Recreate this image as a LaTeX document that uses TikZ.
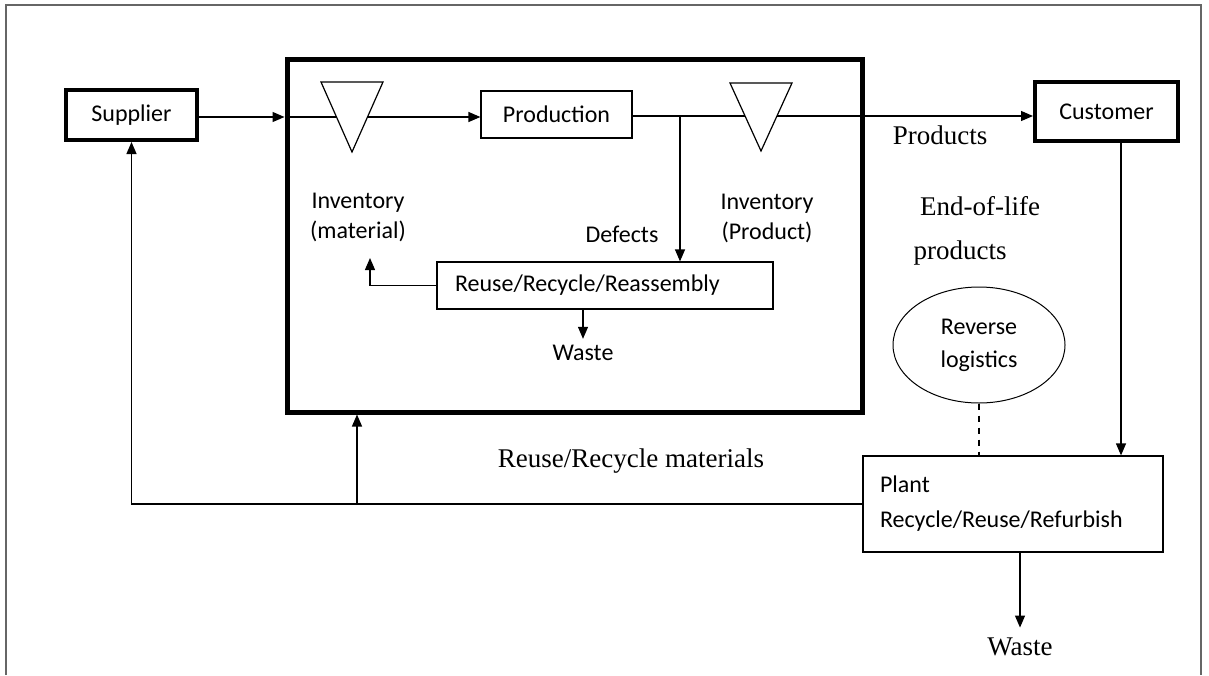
\documentclass[tikz,border=0pt]{standalone}
\usepackage{fontspec}
\setmainfont{Carlito}
\newfontfamily\timesfont{Liberation Serif}
\usetikzlibrary{arrows.meta,shapes.geometric}

\tikzset{
  box/.style={draw, line width=0.6pt, inner sep=0pt, font=\fontsize{12}{15}\selectfont},
  partner/.style={draw, line width=2pt, inner sep=0pt, font=\fontsize{12}{15}\selectfont},
  label/.style={inner sep=0pt, align=center, font=\fontsize{12}{15}\selectfont},
  serif/.style={inner sep=0pt, font=\timesfont\fontsize{13.5}{15}\selectfont},
  flow/.style={line width=0.6pt, -{Triangle[length=6pt,width=5pt]}},
  link/.style={line width=0.6pt},
  stock/.style={line width=0.6pt, line join=miter}
}

\begin{document}
\begin{tikzpicture}[x=0.5pt,y=-0.5pt]
\useasboundingbox (0,0) rectangle (1209,675);
% frame
\draw[black!60, line width=0.8pt] (6,675) -- (6,5) -- (1201,5) -- (1201,675);

% partners and processes
\node[partner, minimum width=65.5pt, minimum height=25pt] (supplier) at (131.5,115) {Supplier};
\node[partner, minimum width=71.5pt, minimum height=29.5pt] (customer) at (1106.5,111.5) {Customer};
\node[draw, line width=2.5pt, minimum width=287.5pt, minimum height=176.5pt] (cell) at (574.5,235.5) {};
\node[box, minimum width=75.5pt, minimum height=23.5pt] (production) at (556.5,114.5) {Production};
\node[box, minimum height=23.5pt, text width=150pt, inner xsep=9pt, align=left] (reuse) at (605,285.5) {Reuse/Recycle/Reassembly};
\node[box, minimum height=48pt, text width=133pt, inner xsep=8.5pt, align=left, font=\fontsize{12}{17.5}\selectfont] (plant) at (1013,504) {Plant\\Recycle/Reuse/Refurbish};
\node[draw, ellipse, line width=0.5pt, inner sep=0pt, minimum width=86pt, minimum height=58pt, align=center, font=\fontsize{12}{16.5}\selectfont] (revlog) at (979,345) {Reverse\\logistics};

% inventories
\draw[stock] (321,82) -- (383,82) -- (352,152) -- cycle;
\coordinate (inv1l) at (336.5,117);
\coordinate (inv1r) at (367.5,117);
\draw[stock] (730,83) -- (792,83) -- (761,151) -- cycle;
\coordinate (inv2l) at (745,116);
\coordinate (inv2r) at (777,116);

% labels
\node[label] (invmat) at (358,217) {Inventory\\(material)};
\node[label] (invprod) at (767,218) {Inventory\\(Product)};
\node[label] (defects) at (622,234) {Defects};
\node[label] (waste1) at (583,353) {Waste};
\node[serif] (products) at (940,135) {Products};
\node[serif] (eol1) at (980,206) {End-of-life};
\node[serif] (eol2) at (960,253) {products};
\node[serif] (rrmat) at (631,461) {Reuse/Recycle materials};
\node[serif] (waste2) at (1020,647) {Waste};

% forward flow
\draw[flow] (supplier.east |- inv1l) -- (cell.west |- inv1l);
\draw[link] (cell.west |- inv1l) -- (inv1l);
\draw[flow] (inv1r) -- (production.west |- inv1r);
\draw[link] (production.east |- inv2l) -- (inv2l);
\draw[flow] (inv2r) -- (customer.west |- inv2r);
\coordinate (split) at (680,116);
\draw[flow] (split) -- (split |- reuse.north);
\coordinate (matin) at (370,258);
\draw[flow] (reuse.west) -| (matin);
\draw[flow] (waste1.north |- reuse.south) -- ([yshift=3pt]waste1.north);

% reverse flow
\coordinate (retdown) at (1121,141);
\draw[flow] (retdown) -- (retdown |- plant.north);
\draw[link, dashed] (revlog.south) -- (revlog.south |- plant.north);
\draw[flow] (waste2.north |- plant.south) -- ([yshift=5pt]waste2.north);
\draw[flow] (plant.west) -| (supplier.south);
\coordinate (fb) at (357,505);
\draw[flow] (fb) -- (fb |- cell.south);
\end{tikzpicture}
\end{document}
